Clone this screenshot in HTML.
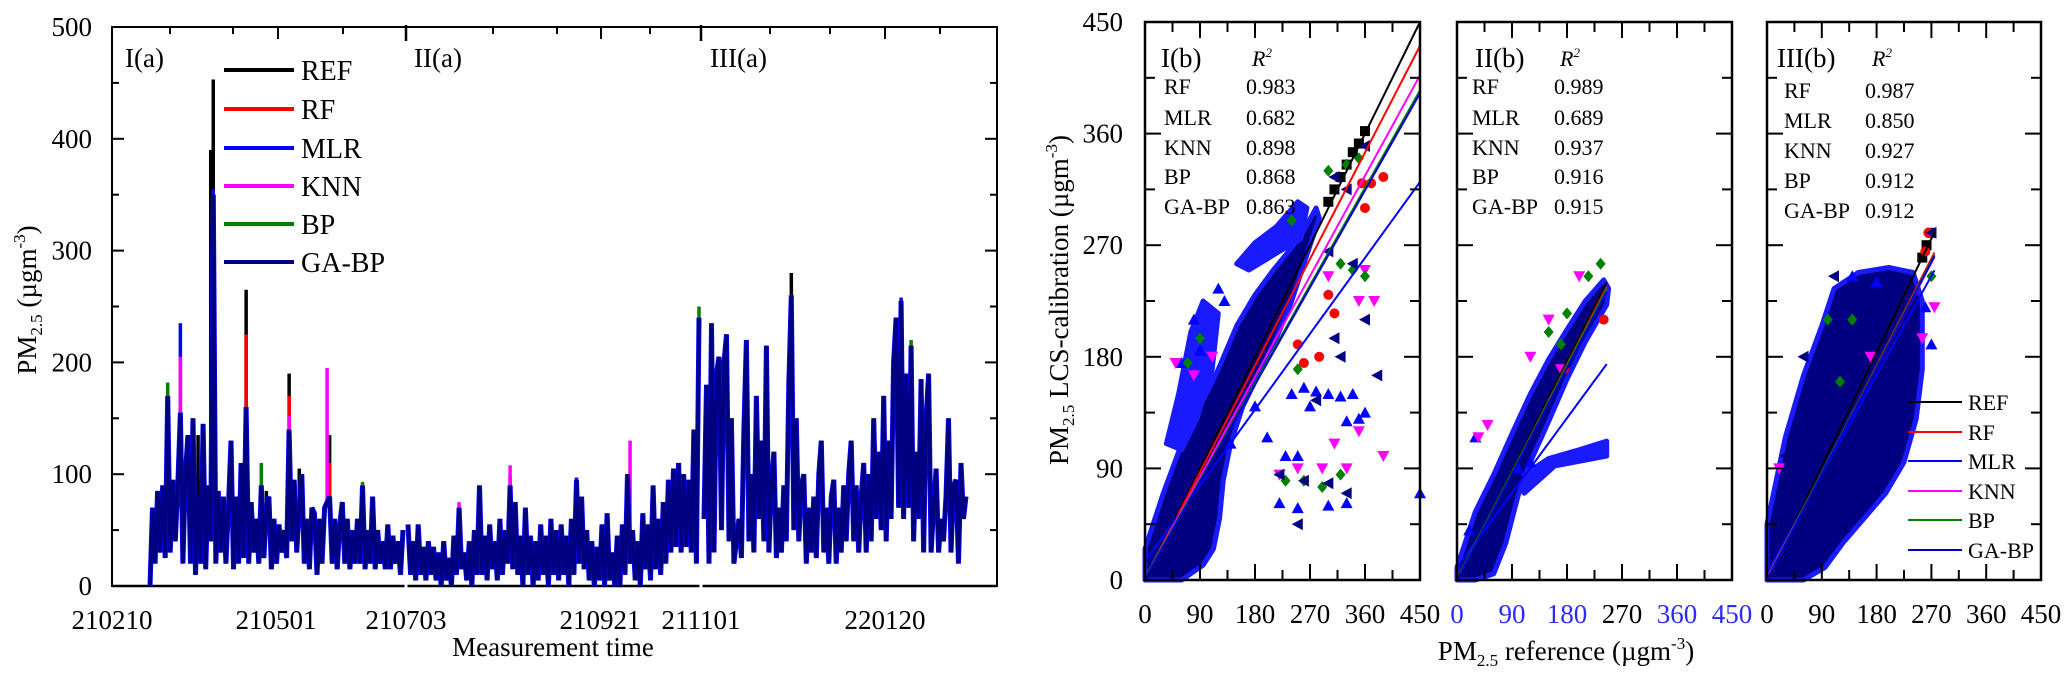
<!DOCTYPE html>
<html><head><meta charset="utf-8">
<style>
html,body{margin:0;padding:0;background:#fff;font-family:"Liberation Serif","Times New Roman",serif;}
svg{display:block;}
svg text{font-family:"Liberation Serif","Times New Roman",serif;}
</style></head>
<body>
<svg id="chart" width="2067" height="677" viewBox="0 0 2067 677" xmlns="http://www.w3.org/2000/svg" font-family="Liberation Serif, serif">
<g id="left"></g>
<g id="right"></g>
</svg>
<script>
// ---------- TIME SERIES DATA ----------
const timeLabels = ['210210','210501','210703','210921','211101','220120'];
const leftYTicks = [0,100,200,300,400,500];
const segNames = ['I(a)','II(a)','III(a)'];
const seriesNames = ['REF','RF','MLR','KNN','BP','GA-BP'];
const gabpSeg1 = [0,70,20,85,30,90,25,170,30,95,40,90,155,20,100,135,20,150,10,80,20,145,15,90,40,350,20,85,30,80,20,70,130,15,80,20,110,25,160,20,75,30,60,20,90,25,70,80,15,60,20,55,30,50,25,140,40,95,30,70,100,20,60,15,70,65,10,60,20,70,75,80,20,60,15,55,75,20,60,15,50,20,60,20,90,15,50,20,80,15,50,20,40,15,55,15,45,20,40,10,50];
const gabpSeg2 = [55,10,40,5,55,10,35,5,40,10,35,5,30,0,40,5,25,0,45,10,70,15,30,5,40,0,50,10,90,10,45,5,55,15,40,5,60,10,50,20,90,15,75,10,45,0,70,10,45,0,40,5,55,10,45,0,60,10,50,5,55,10,45,0,60,10,95,20,80,15,50,5,40,0,35,5,55,0,65,5,30,0,45,0,55,10,100,20,50,5,40,0,65,15,55,5,90,15,60,10,75,20,95,30,105,35,110,30,100,35,95,30,140,20,240];
const gabpSeg3 = [60,180,20,235,30,190,205,50,200,225,40,150,20,40,60,25,140,220,40,100,30,170,60,130,40,215,30,90,120,25,70,30,90,40,180,260,50,150,40,90,100,20,70,30,80,25,100,130,30,70,20,80,95,20,70,30,90,40,100,130,40,90,30,80,110,30,100,40,150,60,120,50,170,40,130,60,200,240,70,255,60,190,70,215,40,120,60,185,30,150,190,30,70,105,30,60,40,80,150,30,90,95,20,110,60,80];
// spikes: [segment, sampleIndex, value]
const refSpikes = [[0,25,453],[0,24,390],[0,38,265],[0,55,190],[0,71,135],[0,59,105],[0,46,85],[0,19,135],[2,35,280],[2,9,225],[1,86,85]];
const rfSpikes = [[0,25,320],[0,38,225],[0,55,170],[0,71,110],[1,86,85]];
const mlrSpikes = [[0,12,235],[0,25,355],[1,66,97],[1,40,98],[1,86,100],[2,79,258]];
const knnSpikes = [[0,12,205],[0,70,195],[0,55,152],[1,87,130],[1,20,75],[1,40,108]];
const bpSpikes = [[0,7,182],[0,44,110],[0,84,93],[1,114,250],[2,17,220],[2,83,220]];

// ---------- SCATTER DATA ----------
const scatterTicks = [0,90,180,270,360,450];
const r2Models = ['RF','MLR','KNN','BP','GA-BP'];
const r2Panel1 = ['0.983','0.682','0.898','0.868','0.863'];
const r2Panel2 = ['0.989','0.689','0.937','0.916','0.915'];
const r2Panel3 = ['0.987','0.850','0.927','0.912','0.912'];
// regression lines [slope, intercept, xmax] order REF,RF,MLR,KNN,BP,GA-BP
const fitPanel1 = [[1.0,0,450],[0.955,1,450],[0.68,15,450],[0.9,2,450],[0.873,2,450],[0.87,1,450]];
const fitPanel2 = [[0.98,0,245],[0.965,0,245],[0.67,10,245],[0.95,1,245],[0.955,1,245],[0.95,0,245]];
const fitPanel3 = [[1.02,0,275],[0.96,0,275],[0.89,5,275],[0.94,2,275],[0.95,1,275],[0.95,0,275]];
// cloud outlines (data units)
const cloud1 = [[0,25],[30,70],[60,110],[90,140],[120,170],[150,205],[180,230],[210,250],[240,268],[260,282],[280,300],[285,292],[260,255],[240,225],[215,195],[185,165],[160,140],[140,110],[128,80],[122,50],[112,25],[95,12],[60,0],[0,0]];
const cloud1b = [[35,110],[55,150],[75,200],[95,225],[120,215],[110,170],[85,130],[60,105]];
const cloud1c = [[150,255],[180,272],[215,285],[250,305],[265,300],[255,275],[220,265],[170,250]];
const cloud2 = [[0,10],[30,55],[60,85],[90,118],[120,150],[150,178],[180,202],[210,225],[240,242],[248,235],[245,222],[210,192],[180,162],[150,128],[120,95],[100,68],[80,30],[60,5],[30,0],[0,0]];
const cloud2b = [[110,70],[160,92],[245,100],[245,112],[200,105],[150,98],[110,85]];
const cloud3 = [[0,45],[30,115],[60,165],[90,205],[110,235],[150,248],[200,252],[240,248],[255,225],[255,170],[245,130],[225,95],[195,70],[160,50],[125,30],[95,10],[60,0],[0,0]];
// outlier points
const p1Ref = [[300,305],[320,325],[340,345],[350,352],[360,362],[310,315],[330,335]];
const p1Rf = [[390,325],[355,320],[360,300],[370,320],[300,230],[310,215],[285,180],[250,190],[260,175]];
const p1Mlr = [[240,150],[260,155],[280,152],[300,150],[320,148],[340,150],[350,130],[360,135],[330,128],[270,140],[230,100],[250,100],[220,62],[250,58],[300,60],[330,62],[450,70],[180,140],[200,115],[140,110],[60,175],[90,185],[80,210],[130,225],[120,235]];
const p1Knn = [[50,175],[80,165],[110,180],[360,250],[375,225],[350,225],[250,90],[220,85],[290,90],[330,90],[300,245],[390,100],[350,120],[310,110]];
const p1Bp = [[230,80],[260,80],[290,75],[320,85],[330,335],[350,340],[300,330],[340,250],[360,245],[320,255],[90,195],[70,175],[250,170],[240,290]];
const p1Ga = [[360,350],[310,325],[330,315],[300,265],[340,255],[360,210],[310,195],[380,165],[280,145],[220,85],[260,80],[300,78],[330,70],[250,45],[320,180]];
const p2Knn = [[50,125],[35,115],[120,180],[150,210],[200,245],[170,170]];
const p2Mlr = [[30,115],[120,95],[100,90],[20,40]];
const p2Bp = [[235,255],[215,245],[180,215],[150,200],[170,190]];
const p2Rf = [[240,210],[175,170]];
const p3Mlr = [[140,245],[180,240],[270,190],[260,220]];
const p3Ga = [[110,245],[140,230],[270,280],[60,180],[30,100]];
const p3Bp = [[100,210],[270,245],[120,160],[140,210]];
const p3Knn = [[275,220],[255,195],[20,90],[170,180]];
const p3Rf = [[265,280],[260,265]];
const p3Ref = [[270,280],[262,270],[255,260]];

// ---------- helpers ----------
const NS='http://www.w3.org/2000/svg';
const FONT='Liberation Serif, Times New Roman, serif';
function mk(tag, attrs, parent){const e=document.createElementNS(NS,tag);for(const k in attrs)e.setAttribute(k,attrs[k]);if(tag==='text')e.setAttribute('font-family',FONT);(parent||svg).appendChild(e);return e;}
const svg=document.getElementById('chart');
const L=document.getElementById('left'), R=document.getElementById('right');
const colors={'REF':'#000000','RF':'#ff0000','MLR':'#0000ff','KNN':'#ff00ff','BP':'#008000','GA-BP':'#000080'};

// ---------- LEFT PANEL ----------
const LX0=112, LX1=997, LY0=27, LY1=586;
const segPix=[[150,403],[408,699],[704,966]];
const segData=[gabpSeg1,gabpSeg2,gabpSeg3];
function yL(v){return LY1-(v/500)*(LY1-LY0);}
function xT(s,i){const d=segData[s];return segPix[s][0]+i*(segPix[s][1]-segPix[s][0])/(d.length-1);}

let t=mk('line',{x1:LX0,y1:LY1,x2:LX1,y2:LY1,stroke:'#000','stroke-width':2.5},L);


const frame=mk('rect',{x:LX0,y:LY0,width:LX1-LX0,height:LY1-LY0,fill:'none',stroke:'#000','stroke-width':2},L);


for(let v=0;v<=500;v+=50){
  const len=v%100===0?12:7;
  mk('line',{x1:LX0,y1:yL(v),x2:LX0+len,y2:yL(v),stroke:'#000','stroke-width':2},L);
  mk('line',{x1:LX1,y1:yL(v),x2:LX1-len,y2:yL(v),stroke:'#000','stroke-width':2},L);
}
leftYTicks.forEach(v=>{
  const e=mk('text',{x:92,y:yL(v)+9,'text-anchor':'end','font-size':27},L);
  e.textContent=v;
  
  
});
const topTickX=[[170,7],[233,7],[278,12],[343,7],[493,7],[557,7],[601,12],[650,7],[770,7],[830,7],[885,12],[940,7]];
topTickX.forEach(([x,len])=>{mk('line',{x1:x,y1:LY0,x2:x,y2:LY0+len,stroke:'#000','stroke-width':2},L);});
[406,701].forEach(x=>{
  const d=mk('line',{x1:x,y1:LY0-2,x2:x,y2:LY0+14,stroke:'#000','stroke-width':2.5},L);
  
  
  mk('line',{x1:x,y1:LY1-12,x2:x,y2:LY1+2,stroke:'#fff','stroke-width':3},L);
});
const timeLabelX=[112,276,406,600,701,885];
timeLabels.forEach((lab,i)=>{
  const e=mk('text',{x:timeLabelX[i],y:629,'text-anchor':'middle','font-size':27},L);
  e.textContent=lab;
  
  
});
t=mk('text',{x:553,y:656,'text-anchor':'middle','font-size':27},L);t.textContent='Measurement time';


t=mk('text',{transform:'translate(36,300) rotate(-90)','text-anchor':'middle','font-size':27},L);
t.innerHTML='PM<tspan font-size="17" dy="6">2.5</tspan><tspan dy="-6"> (µgm</tspan><tspan font-size="17" dy="-11">-3</tspan><tspan dy="11">)</tspan>';


const segLabelX=[125,414,710];
segNames.forEach((n,i)=>{
  const e=mk('text',{x:segLabelX[i],y:67,'font-size':27},L);e.textContent=n;
  
  
});
const spikeSets=[['REF',refSpikes],['RF',rfSpikes],['MLR',mlrSpikes],['KNN',knnSpikes],['BP',bpSpikes]];
spikeSets.forEach(([name,arr])=>{
  arr.forEach(([s,i,v])=>{
    const base=Math.min(segData[s][i],v);
    const e=mk('line',{x1:xT(s,i),y1:yL(base),x2:xT(s,i),y2:yL(v),stroke:colors[name],'stroke-width':3.5},L);
    
    
  });
});
segData.forEach((d,s)=>{
  const pts=d.map((v,i)=>xT(s,i).toFixed(1)+','+yL(v).toFixed(1)).join(' ');
  mk('polyline',{points:pts,fill:'none',stroke:'#0000ff','stroke-width':5,'stroke-linejoin':'miter'},L);
  const e=mk('polyline',{points:pts,fill:'none',stroke:'#000080','stroke-width':3.5,'stroke-linejoin':'miter'},L);
  
  
});
const legY=[70,109,148,186,224,262];
seriesNames.forEach((n,i)=>{
  const g=mk('g',{},L);
  
  
  mk('line',{x1:224,y1:legY[i],x2:294,y2:legY[i],stroke:colors[n],'stroke-width':4},g);
  const e=mk('text',{x:301,y:legY[i]+10,'font-size':28},g);e.textContent=n;
});

// ---------- RIGHT PANELS ----------
const PY0=22, PY1=580;
const panels=[
  {x0:1145,x1:1420,label:'I(b)',r2:r2Panel1,fit:fitPanel1,clouds:[cloud1,cloud1b,cloud1c],nameX:1164,valX:1246,labX:1161,r2X:1252,rowY:[86,117,147,176,206],
   pts:[['REF',p1Ref],['RF',p1Rf],['MLR',p1Mlr],['KNN',p1Knn],['BP',p1Bp],['GA-BP',p1Ga]]},
  {x0:1457,x1:1732,label:'II(b)',r2:r2Panel2,fit:fitPanel2,clouds:[cloud2,cloud2b],nameX:1472,valX:1554,labX:1475,r2X:1560,rowY:[86,117,147,176,206],
   pts:[['RF',p2Rf],['MLR',p2Mlr],['KNN',p2Knn],['BP',p2Bp]]},
  {x0:1767,x1:2041,label:'III(b)',r2:r2Panel3,fit:fitPanel3,clouds:[cloud3],nameX:1784,valX:1865,labX:1777,r2X:1872,rowY:[90,120,150,180,210],
   pts:[['REF',p3Ref],['RF',p3Rf],['MLR',p3Mlr],['KNN',p3Knn],['BP',p3Bp],['GA-BP',p3Ga]]}
];
function marker(name,cx,cy,g){
  const c=colors[name], s=5;
  let e;
  if(name==='REF') e=mk('rect',{x:cx-s,y:cy-s,width:2*s,height:2*s,fill:c},g);
  else if(name==='RF') e=mk('circle',{cx:cx,cy:cy,r:s,fill:c},g);
  else if(name==='MLR') e=mk('polygon',{points:`${cx},${cy-s-1} ${cx-s-1},${cy+s} ${cx+s+1},${cy+s}`,fill:c},g);
  else if(name==='KNN') e=mk('polygon',{points:`${cx},${cy+s+1} ${cx-s-1},${cy-s} ${cx+s+1},${cy-s}`,fill:c},g);
  else if(name==='BP') e=mk('polygon',{points:`${cx},${cy-s-1} ${cx-s},${cy} ${cx},${cy+s+1} ${cx+s},${cy}`,fill:c},g);
  else e=mk('polygon',{points:`${cx-s-1},${cy} ${cx+s},${cy-s-1} ${cx+s},${cy+s+1}`,fill:c},g);
  
  
}
panels.forEach((p,pi)=>{
  const g=mk('g',{},R);
  
  
  const X=v=>p.x0+v/450*(p.x1-p.x0), Y=v=>PY1-v/450*(PY1-PY0);
  p.clouds.forEach((cl,ci)=>{
    const pts=cl.map(([a,b])=>X(a).toFixed(1)+','+Y(b).toFixed(1)).join(' ');
    const e=mk('polygon',{points:pts,fill:ci===0?'#000080':'#1a1aff',stroke:'#1a1aff','stroke-width':5,'stroke-linejoin':'round'},g);
    
    
  });
  p.pts.forEach(([n,arr])=>arr.forEach(([a,b])=>marker(n,X(a),Y(b),g)));
  seriesNames.forEach((n,i)=>{
    const [m,c,xm]=p.fit[i];
    const e=mk('line',{x1:X(0),y1:Y(c),x2:X(xm),y2:Y(c+m*xm),stroke:colors[n]==='#000080'?'#0000cc':colors[n],'stroke-width':2},g);
    
    
  });
  const fr=mk('rect',{x:p.x0,y:PY0,width:p.x1-p.x0,height:PY1-PY0,fill:'none',stroke:'#000','stroke-width':2.5},g);
  
  
  for(let v=45;v<450;v+=45){
    const len=v%90===0?16:10;
    mk('line',{x1:p.x0,y1:Y(v),x2:p.x0+len,y2:Y(v),stroke:'#000','stroke-width':2},g);
    mk('line',{x1:p.x1,y1:Y(v),x2:p.x1-len,y2:Y(v),stroke:'#000','stroke-width':2},g);
    mk('line',{x1:X(v),y1:PY1,x2:X(v),y2:PY1-len,stroke:'#000','stroke-width':2},g);
    mk('line',{x1:X(v),y1:PY0,x2:X(v),y2:PY0+len,stroke:'#000','stroke-width':2},g);
  }
  scatterTicks.forEach(v=>{
    let fill='#000';
    if(pi===1) fill=(v===270)?'#000':'#2a2aff';
    const e=mk('text',{x:X(v),y:623,'text-anchor':'middle','font-size':27,fill:fill},g);e.textContent=v;
    
    
  });
  let e=mk('text',{x:p.labX,y:67,'font-size':27},g);e.textContent=p.label;
  
  
  e=mk('text',{x:p.r2X,y:66,'font-size':22,'font-style':'italic'},g);
  e.innerHTML='R<tspan font-size="13" dy="-9">2</tspan>';
  
  
  r2Models.forEach((m,i)=>{
    const a=mk('text',{x:p.nameX,y:p.rowY[i]+8,'font-size':22},g);a.textContent=m;
    
    
    const b=mk('text',{x:p.valX,y:p.rowY[i]+8,'font-size':22},g);b.textContent=p.r2[i];
    
    
  });
});
scatterTicks.forEach(v=>{
  const e=mk('text',{x:1123,y:PY1-v/450*(PY1-PY0)+9,'text-anchor':'end','font-size':27},R);e.textContent=v;
  
  
});
t=mk('text',{transform:'translate(1068,300) rotate(-90)','text-anchor':'middle','font-size':27},R);
t.innerHTML='PM<tspan font-size="17" dy="6">2.5</tspan><tspan dy="-6"> LCS-calibration (µgm</tspan><tspan font-size="17" dy="-11">-3</tspan><tspan dy="11">)</tspan>';


t=mk('text',{x:1566,y:660,'text-anchor':'middle','font-size':27},R);
t.innerHTML='PM<tspan font-size="17" dy="6">2.5</tspan><tspan dy="-6"> reference (µgm</tspan><tspan font-size="17" dy="-11">-3</tspan><tspan dy="11">)</tspan>';


const leg3Y=[402,432,461,491,520,550];
seriesNames.forEach((n,i)=>{
  const g=mk('g',{},R);
  
  
  mk('line',{x1:1908,y1:leg3Y[i],x2:1962,y2:leg3Y[i],stroke:colors[n]==='#000080'?'#0000cc':colors[n],'stroke-width':2},g);
  const e=mk('text',{x:1968,y:leg3Y[i]+8,'font-size':22},g);e.textContent=n;
});
</script>
</body></html>
